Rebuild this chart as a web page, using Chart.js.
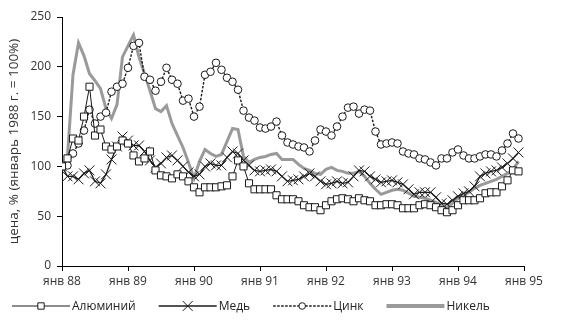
<!DOCTYPE html>
<html>
<head>
<meta charset="utf-8">
<script src="https://cdn.jsdelivr.net/npm/chart.js@4"></script>
<style>
  html, body { margin: 0; padding: 0; background: #fff; }
  #wrap { width: 565px; height: 334px; }
</style>
</head>
<body>
<div id="wrap"><canvas id="c" width="565" height="334"></canvas></div>
<script>
// Monthly metal prices, January 1988 = 100%
const yearLabels = ['янв 88', 'янв 89', 'янв 90', 'янв 91', 'янв 92', 'янв 93', 'янв 94', 'янв 95'];
const seriesNames = ['Алюминий', 'Медь', 'Цинк', 'Никель'];
const yTitle = 'цена, % (январь 1988 г. = 100%)';

const aluminium = [
  100, 108, 128, 126, 150, 180, 131, 137, 120, 117, 120, 126,
  123, 111, 105, 108, 115, 96, 91, 90, 88, 92, 90, 85,
  79, 74, 79, 79, 79, 80, 81, 90, 106, 100, 83, 77,
  77, 77, 77, 71, 67, 67, 67, 65, 61, 59, 59, 56,
  61, 65, 67, 68, 67, 65, 68, 66, 65, 61, 61, 62,
  62, 61, 58, 58, 58, 61, 62, 61, 59, 56, 54, 56,
  61, 66, 66, 66, 68, 73, 74, 74, 80, 86, 96, 95
];
const copper = [
  100, 90, 90, 87, 93, 96, 85, 83, 92, 107, 120, 130,
  126, 121, 121, 115, 106, 99, 103, 109, 111, 106, 100, 94,
  90, 92, 100, 103, 101, 101, 109, 115, 113, 106, 101, 96,
  95, 96, 97, 95, 90, 85, 86, 87, 90, 93, 90, 85,
  82, 83, 85, 83, 84, 90, 96, 95, 90, 87, 84, 85,
  86, 84, 82, 77, 72, 74, 74, 74, 69, 63, 62, 66,
  70, 73, 75, 80, 90, 93, 95, 96, 99, 103, 108, 114
];
const zinc = [
  100, 101, 113, 123, 136, 157, 143, 150, 154, 175, 180, 183,
  199, 221, 224, 190, 187, 176, 185, 199, 187, 183, 166, 168,
  150, 160, 192, 195, 204, 197, 189, 185, 177, 156, 149, 146,
  139, 138, 140, 145, 131, 124, 122, 120, 119, 115, 126, 137,
  135, 131, 140, 150, 159, 160, 153, 157, 156, 135, 122, 123,
  124, 123, 115, 113, 112, 108, 107, 104, 101, 108, 108, 114,
  117, 111, 108, 108, 110, 112, 112, 110, 116, 123, 133, 128
];
const nickel = [
  100, 110, 192, 224, 211, 193, 186, 178, 158, 148, 162, 210,
  221, 232, 210, 193, 176, 158, 155, 161, 143, 131, 119, 104,
  88, 105, 117, 113, 110, 112, 125, 138, 137, 110, 104, 107,
  109, 110, 112, 113, 107, 107, 107, 102, 98, 96, 93, 92,
  97, 99, 96, 95, 93, 93, 95, 90, 83, 77, 72, 74,
  76, 77, 76, 73, 70, 69, 68, 66, 64, 61, 58, 63,
  68, 71, 74, 78, 81, 83, 85, 87, 90, 93, 97, 105
];

const FONT = '"Open Sans", "DejaVu Sans", sans-serif';
const TEXT = '#333';
const INK = '#1a1a1a';
const GREY = '#9a9a9a';

// month index -> point
const toPoints = arr => arr.map((v, i) => ({ x: i, y: v }));

const styles = [
  { line: INK, width: 1, dash: [], marker: 'rect', radius: 5, legendRadius: 4.5 },
  { line: INK, width: 1.3, dash: [], marker: 'crossRot', radius: 7, legendRadius: 7 },
  { line: INK, width: 1.4, dash: [2.5, 1.5], marker: 'circle', radius: 3.8, legendRadius: 3.3 },
  { line: GREY, width: 3, dash: [], marker: null, radius: 0, legendRadius: 0 }
];
const values = [aluminium, copper, zinc, nickel];

const datasets = values.map((arr, i) => {
  const s = styles[i];
  return {
    label: seriesNames[i],
    data: toPoints(arr),
    borderColor: s.line,
    borderWidth: s.width,
    borderDash: s.dash,
    tension: 0,
    fill: false,
    pointStyle: s.marker || 'circle',
    pointRadius: s.radius,
    pointHoverRadius: s.radius,
    pointBackgroundColor: '#fff',
    pointBorderColor: s.line,
    pointBorderWidth: 1
  };
});

// Draw one marker glyph the same way the chart does
function drawMarker(ctx, style, x, y, r) {
  Chart.helpers.drawPoint(ctx, { pointStyle: style, radius: r, rotation: 0, borderWidth: 1 }, x, y);
}

// Legend row: a long sample line with the marker in its middle, then the name
const lineLegend = {
  id: 'lineLegend',
  afterDraw(chart, args, opts) {
    const ctx = chart.ctx;
    const y = opts.y;
    let x = opts.x;
    ctx.save();
    ctx.font = '12px ' + FONT;
    ctx.textBaseline = 'middle';
    seriesNames.forEach((name, i) => {
      const s = styles[i];
      ctx.save();
      ctx.strokeStyle = s.line;
      ctx.lineWidth = s.marker ? s.width : 4;
      ctx.setLineDash(s.dash);
      ctx.beginPath();
      ctx.moveTo(x, y);
      ctx.lineTo(x + opts.sample, y);
      ctx.stroke();
      ctx.setLineDash([]);
      if (s.marker) {
        ctx.fillStyle = '#fff';
        ctx.strokeStyle = s.line;
        ctx.lineWidth = 1;
        drawMarker(ctx, s.marker, x + opts.sample / 2, y, s.legendRadius);
      }
      ctx.restore();
      ctx.fillStyle = '#222';
      ctx.fillText(name, x + opts.sample + 2, y + 1);
      x += opts.sample + 2 + ctx.measureText(name).width + opts.gap;
    });
    ctx.restore();
  }
};

new Chart(document.getElementById('c'), {
  type: 'line',
  data: { datasets },
  plugins: [lineLegend],
  options: {
    responsive: false,
    animation: false,
    devicePixelRatio: 1,
    layout: { padding: { left: 3, right: 41, top: 17, bottom: 44 } },
    plugins: {
      legend: { display: false },
      tooltip: { enabled: false },
      lineLegend: { x: 12, y: 306, sample: 58, gap: 23 }
    },
    scales: {
      x: {
        type: 'linear',
        min: 0,
        max: 84,
        afterFit: s => { s.height = 24; },
        ticks: {
          stepSize: 12,
          autoSkip: false,
          maxRotation: 0,
          padding: 3,
          color: TEXT,
          font: { family: FONT, size: 12 },
          callback: v => yearLabels[v / 12]
        },
        grid: { drawOnChartArea: false, drawTicks: true, tickLength: 5, color: '#000', lineWidth: 1 },
        border: { display: true, color: '#000', width: 1 }
      },
      y: {
        min: 0,
        max: 250,
        afterFit: s => { s.width = 59; },
        ticks: {
          stepSize: 50,
          padding: 6,
          color: TEXT,
          font: { family: FONT, size: 12 }
        },
        title: {
          display: true,
          text: yTitle,
          color: TEXT,
          font: { family: FONT, size: 13.5 },
          padding: { top: 3, bottom: 4 }
        },
        grid: { drawOnChartArea: false, drawTicks: true, tickLength: 5, color: '#000', lineWidth: 1 },
        border: { display: true, color: '#000', width: 1 }
      }
    }
  }
});
</script>
</body>
</html>
